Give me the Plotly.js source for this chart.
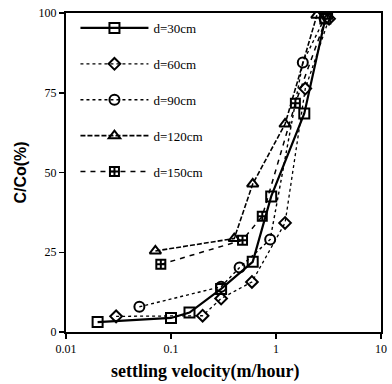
<!DOCTYPE html>
<html><head><meta charset="utf-8">
<script src="https://cdn.plot.ly/plotly-3.0.1.min.js"></script>
<style>html,body{margin:0;padding:0;background:#fff}#chart{width:392px;height:384px}</style>
</head><body><div id="chart"></div>
<script>
// Data
const seriesNames = ["d=30cm", "d=60cm", "d=90cm", "d=120cm", "d=150cm"];
const x30 = [0.02, 0.1, 0.15, 0.3, 0.6, 0.9, 1.86, 2.95];
const y30 = [3.1, 4.4, 6.1, 13.5, 22, 42.5, 68.5, 98.3];
const x60 = [0.03, 0.2, 0.3, 0.59, 1.22, 1.9, 3.2];
const y60 = [4.9, 5.1, 10.5, 15.7, 34.2, 76.3, 98.2];
const x90 = [0.05, 0.3, 0.45, 0.88, 1.8, 2.9];
const y90 = [7.9, 14.2, 20.2, 29, 84.5, 98.3];
const x120 = [0.071, 0.4, 0.6, 1.22, 2.45];
const y120 = [25.4, 29.3, 46.4, 65.2, 99.3];
const x150 = [0.08, 0.48, 0.74, 1.53, 3.1];
const y150 = [21.2, 28.8, 36.3, 71.7, 99.6];
const xTickVals = [0.01, 0.1, 1, 10];
const xTickText = ["0.01", "0.1", "1", "10"];
const yTickVals = [0, 25, 50, 75, 100];
const xTitle = "settling velocity(m/hour)";
const yTitle = "C/Co(%)";

const serif = "Liberation Serif, Times New Roman, serif";
const traces = [
  {x: x30, y: y30, dash: "solid", w: 2.2, sym: "square-open", size: 10},
  {x: x60, y: y60, dash: "dot", w: 1.3, sym: "diamond-open", size: 9},
  {x: x90, y: y90, dash: "3px,3px", w: 1.4, sym: "circle-open", size: 10},
  {x: x120, y: y120, dash: "5px,2px", w: 1.6, sym: "triangle-up-open", size: 10},
  {x: x150, y: y150, dash: "5px,5px", w: 1.5, sym: "square-cross-open", size: 9}
].map((t, i) => ({
  type: "scatter", mode: "lines+markers", name: seriesNames[i],
  x: t.x, y: t.y, legendgroup: "g" + i,
  line: {color: "#000", width: t.w, dash: t.dash},
  marker: {symbol: t.sym, size: t.size, color: "#000", line: {color: "#000", width: 2}}
}));

const layout = {
  width: 392, height: 384,
  margin: {l: 66, r: 11, t: 13, b: 52},
  paper_bgcolor: "#fff", plot_bgcolor: "#fff",
  font: {family: serif, color: "#000", size: 12},
  showlegend: true,
  legend: {
    x: 0.03, y: 1.0, xanchor: "left", yanchor: "top",
    bgcolor: "rgba(0,0,0,0)", borderwidth: 0,
    font: {family: serif, size: 13, color: "#000"},
    itemwidth: 68, tracegroupgap: 16, traceorder: "grouped"
  },
  xaxis: {
    type: "log", range: [-2, 1],
    tickvals: xTickVals, ticktext: xTickText,
    ticks: "outside", ticklen: 5, tickwidth: 1.5, tickcolor: "#000",
    showline: true, linewidth: 2, linecolor: "#000", mirror: true,
    showgrid: false, zeroline: false,
    tickfont: {family: serif, size: 12, color: "#000"}
  },
  yaxis: {
    range: [0, 100],
    tickvals: yTickVals,
    ticks: "outside", ticklen: 5, tickwidth: 1.5, tickcolor: "#000",
    showline: true, linewidth: 2, linecolor: "#000", mirror: true,
    showgrid: false, zeroline: false,
    tickfont: {family: serif, size: 12, color: "#000"},
    title: {text: yTitle, standoff: 8,
            font: {family: "Liberation Sans, Arial, sans-serif", size: 16, color: "#000", weight: "bold"}}
  },
  annotations: [{
    text: xTitle, xref: "paper", yref: "paper", x: 0.44, y: -0.125,
    xanchor: "center", yanchor: "middle", showarrow: false,
    font: {family: serif, size: 18, color: "#000", weight: "bold"}
  }]
};
Plotly.newPlot("chart", traces, layout, {displayModeBar: false, staticPlot: true});
</script></body></html>
